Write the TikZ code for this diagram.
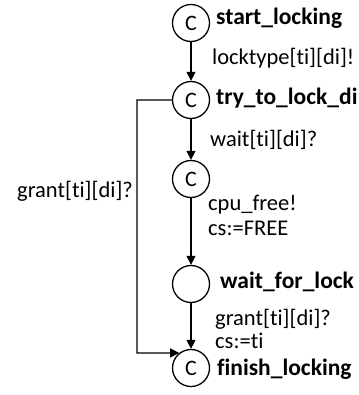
\documentclass[tikz,border=0pt]{standalone}
\usepackage{fontspec}
\setmainfont{Carlito}[Ligatures={NoCommon,NoRare,NoContextual}]
\usetikzlibrary{arrows.meta}
\newcommand\tI{t\kern0pt i}
\begin{document}
\begin{tikzpicture}[x=1pt,y=-1pt,
  loc/.style={circle,draw,line width=1.3pt,minimum size=37pt,inner sep=0pt,font=\fontsize{22}{24}\selectfont},
  lbl/.style={anchor=base west,inner sep=0pt,font=\fontsize{22.5}{24}\selectfont},
  blbl/.style={lbl,font=\fontsize{23.5}{26}\selectfont\bfseries},
  edge/.style={line width=1.3pt,-{Triangle[length=9pt,width=9pt]}}]
\useasboundingbox (0,0) rectangle (358,395);
\node[loc] (s1) at (191,23) {C};
\node[loc] (s2) at (191,100) {C};
\node[loc] (s3) at (191,179) {C};
\node[loc] (s4) at (191,284) {};
\node[loc] (s5) at (191,368) {C};
\node[blbl] (n1) at (216,25) {start\_locking};
\node[lbl] (e1) at (212,65) {locktype[\tI][di]!};
\node[blbl] (n2) at (216,105) {try\_to\_lock\_di};
\node[lbl] (e2) at (210,147) {wait[\tI][di]?};
\node[lbl] (e5) at (17,197) {grant[\tI][di]?};
\node[lbl] (e3a) at (208,210) {cpu\_free!};
\node[lbl] (e3b) at (208,235) {cs:=FREE};
\node[blbl] (n4) at (220,288) {wait\_for\_lock};
\node[lbl] (e4a) at (215,325) {grant[\tI][di]?};
\node[lbl] (e4b) at (215,348) {cs:=\tI};
\node[blbl] (n5) at (217,375) {finish\_locking};
\coordinate (l1) at (137,100);
\coordinate (l2) at (137,353);
\draw[edge] (s1) -- (s2);
\draw[edge] (s2) -- (s3);
\draw[edge] (s3) -- (s4);
\draw[edge] (s4) -- (s5);
\draw[edge] (s2.west) -- (l1) -- (l2) -- (s5.128);
\end{tikzpicture}
\end{document}
